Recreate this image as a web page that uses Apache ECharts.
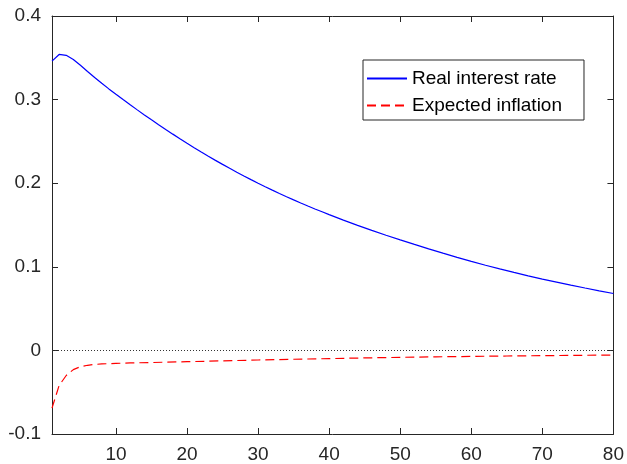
<!DOCTYPE html>
<html>
<head>
<meta charset="utf-8">
<script src="https://cdn.jsdelivr.net/npm/echarts@6/dist/echarts.min.js"></script>
<style>
html,body{margin:0;padding:0;background:#fff;}
#chart{width:627px;height:464px;}
</style>
</head>
<body>
<div id="chart"></div>
<script>
// Horizon (periods)
const realX = [1,2,3,4,5,6,7,8,9,10,11,12,13,14,15,16,17,18,19,20,21,22,23,24,25,26,27,28,29,30,31,32,33,34,35,36,37,38,39,40,42,44,46,48,50,52,54,56,58,60,62,64,66,68,70,72,74,76,78,80];
const realRate = [0.346,0.354,0.353,0.348,0.341,0.3336,0.3264,0.3195,0.3128,0.3063,0.3000,0.2938,0.2877,0.2817,0.2758,0.2700,0.2643,0.2587,0.2532,0.2478,0.2425,0.2373,0.2322,0.2273,0.2225,0.2178,0.2132,0.2087,0.2043,0.2000,0.1958,0.1917,0.1877,0.1838,0.1800,0.1763,0.1727,0.1692,0.1658,0.1624,0.1559,0.1496,0.1436,0.1378,0.1322,0.1268,0.1215,0.1163,0.1113,0.1065,0.1019,0.0975,0.0933,0.0892,0.0853,0.0816,0.0780,0.0746,0.0713,0.0681];

const inflX = [1,2,3,4,5,6,7,8,10,12,15,20,25,30,35,40,45,50,55,60,65,70,75,80];
const expInflation = [-0.069,-0.042,-0.030,-0.023,-0.0195,-0.0178,-0.0168,-0.0162,-0.0155,-0.0150,-0.0145,-0.0135,-0.0125,-0.0115,-0.0106,-0.0098,-0.0090,-0.0083,-0.0077,-0.0072,-0.0067,-0.0063,-0.0059,-0.0055];

const xTicks = [10,20,30,40,50,60,70,80];
const seriesNames = ['Real interest rate','Expected inflation'];

const FONT = 'Liberation Sans, Arial, Helvetica, sans-serif';
const AX = '#262626';

const chart = echarts.init(document.getElementById('chart'), null, {renderer:'canvas'});

function xAxisCfg(pos, showLabels){
  return {
    type:'value', position:pos, min:1, max:80,
    axisLine:{show:true, onZero:false, lineStyle:{color:AX, width:1}},
    axisTick:{show:true, inside:true, length:6, customValues:xTicks, lineStyle:{color:AX}},
    axisLabel:{show:showLabels, customValues:xTicks, color:AX, fontSize:19, fontFamily:FONT, margin:11},
    splitLine:{show:false}
  };
}
function yAxisCfg(pos, showLabels){
  return {
    type:'value', position:pos, min:-0.1, max:0.4, interval:0.1,
    axisLine:{show:true, onZero:false, lineStyle:{color:AX, width:1}},
    axisTick:{show:true, inside:true, length:6, lineStyle:{color:AX}},
    axisLabel:{show:showLabels, color:AX, fontSize:19, fontFamily:FONT, margin:11,
      formatter:v=>String(Math.round(v*10)/10)},
    splitLine:{show:false}
  };
}

chart.setOption({
  animation:false,
  backgroundColor:'#fff',
  grid:{left:52, right:10, top:16, bottom:30, containLabel:false},
  xAxis:[xAxisCfg('bottom', true), xAxisCfg('top', false)],
  yAxis:[yAxisCfg('left', true), yAxisCfg('right', false)],
  legend:{
    data:seriesNames,
    orient:'vertical',
    left:363, top:60,
    itemWidth:40, itemHeight:3, itemGap:8,
    padding:[9,22,5,3],
    borderColor:AX, borderWidth:1, backgroundColor:'#fff',
    itemStyle:{opacity:0},
    textStyle:{color:'#000', fontSize:19, fontFamily:FONT}
  },
  series:[
    {
      name:seriesNames[0], type:'line', xAxisIndex:0, yAxisIndex:0,
      data:realX.map((x,i)=>[x, realRate[i]]),
      showSymbol:false, symbol:'none', smooth:false,
      lineStyle:{color:'#0000ff', width:1.2},
      itemStyle:{color:'#0000ff'},
      markLine:{
        silent:true, symbol:'none', label:{show:false},
        lineStyle:{color:'#333', type:[1,2], width:1},
        data:[{yAxis:0}]
      }
    },
    {
      name:seriesNames[1], type:'line', xAxisIndex:0, yAxisIndex:0,
      data:inflX.map((x,i)=>[x, expInflation[i]]),
      showSymbol:false, symbol:'none', smooth:false,
      lineStyle:{color:'#ff0000', width:1.2, type:[9,5]},
      itemStyle:{color:'#ff0000'}
    }
  ]
});
</script>
</body>
</html>
